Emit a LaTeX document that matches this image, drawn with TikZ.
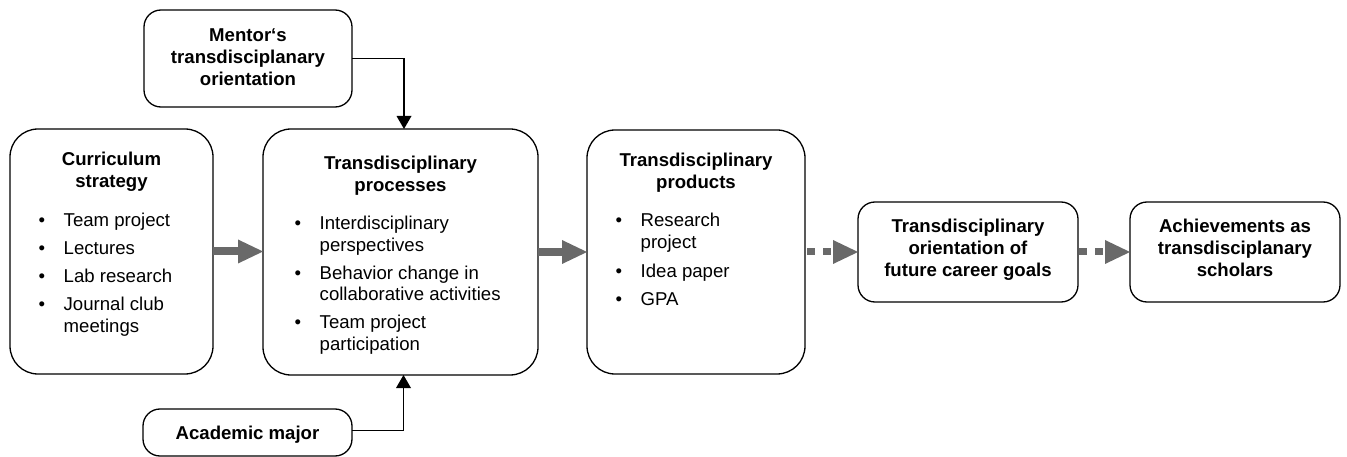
\documentclass[tikz,border=0pt]{standalone}
\usepackage{fontspec}
\setmainfont{Liberation Sans}
\usetikzlibrary{arrows.meta,calc}
\definecolor{arrgray}{RGB}{105,105,105}
\newcommand{\bitem}[1]{\noindent\hangindent=25pt\hangafter=1\makebox[25pt][l]{\textbullet}#1\par}
\newcommand{\titleblock}[1]{\vtop{\hsize=240pt\parindent=0pt\parskip=0pt\centering\bfseries #1\par}}
\newcommand{\listblock}[1]{\vtop{\hsize=240pt\parindent=0pt\parskip=0pt #1}}
\begin{document}
\begin{tikzpicture}[x=1pt,y=-1pt,
  every node/.style={font=\fontsize{18.6}{21.7}\selectfont, inner sep=0pt, outer sep=0pt},
  bigbox/.style={draw, line width=1.3pt, rounded corners=28pt},
  smallbox/.style={draw, line width=1.3pt, rounded corners=17pt},
  flowarrow/.style={draw=arrgray, line width=8pt, -{Triangle[length=25pt,width=24pt,line width=0pt]}},
  dasharrow/.style={draw=arrgray, line width=7pt, dash pattern=on 7.5pt off 8.5pt, -{Triangle[length=25pt,width=24pt,line width=0pt]}},
  conn/.style={draw=black, line width=1.5pt, -{Triangle[length=13pt,width=15pt,line width=0pt]}}
]
\useasboundingbox (0,0) rectangle (1347,457);

% boxes
\node[smallbox, minimum width=208pt, minimum height=97pt] (mentor) at (248,58.5) {};
\node[bigbox, minimum width=203pt, minimum height=245pt] (curr) at (111.5,251.5) {};
\node[bigbox, minimum width=275pt, minimum height=246pt] (proc) at (400.5,252) {};
\node[smallbox, minimum width=209pt, minimum height=47pt] (acad) at (247.5,432.5) {};
\node[bigbox, minimum width=218pt, minimum height=244pt] (prod) at (696,252) {};
\node[smallbox, minimum width=220pt, minimum height=100pt] (career) at (968,252) {};
\node[smallbox, minimum width=210pt, minimum height=100pt] (ach) at (1235,252) {};

% texts
\node[anchor=base] (mentorT) at (248,42) {\titleblock{Mentor‘s\\transdisciplanary\\orientation}};
\node[anchor=base] (currT) at (111.5,166) {\titleblock{Curriculum\\strategy}};
\node[anchor=base] (procT) at (400.5,170) {\titleblock{Transdisciplinary\\processes}};
\node[anchor=base] (prodT) at (696,167) {\titleblock{Transdisciplinary\\products}};
\node[anchor=base] (careerT) at (968,233) {\titleblock{Transdisciplinary\\orientation of\\future career goals}};
\node[anchor=base] (achT) at (1235,233) {\titleblock{Achievements as\\transdisciplanary\\scholars}};
\node[anchor=base] (acadT) at (247.5,439) {\titleblock{Academic major}};

\node[anchor=base west] (currL) at (38.7,227) {\listblock{\bitem{Team project}\vskip6.3pt\bitem{Lectures}\vskip6.3pt\bitem{Lab research}\vskip6.3pt\bitem{Journal club\\meetings}}};
\node[anchor=base west] (procL) at (294.7,230) {\listblock{\bitem{Interdisciplinary\\perspectives}\vskip5.8pt\bitem{Behavior change in\\collaborative activities}\vskip5.8pt\bitem{Team project\\participation}}};
\node[anchor=base west] (prodL) at (615.7,227) {\listblock{\bitem{Research\\project}\vskip6.8pt\bitem{Idea paper}\vskip6.3pt\bitem{GPA}}};

% connectors
\draw[conn] (mentor.east) -| ([xshift=3.5pt]proc.north);
\draw[conn] ([yshift=2pt]acad.east) -| ([xshift=3pt]proc.south);
\draw[flowarrow] (curr.east) -- (curr.east -| proc.west);
\draw[flowarrow] (proc.east) -- (prod.west);
\draw[dasharrow] ([xshift=2pt]prod.east) -- (career.west);
\draw[dasharrow] ([xshift=1pt]career.east) -- (ach.west);
\end{tikzpicture}
\end{document}
